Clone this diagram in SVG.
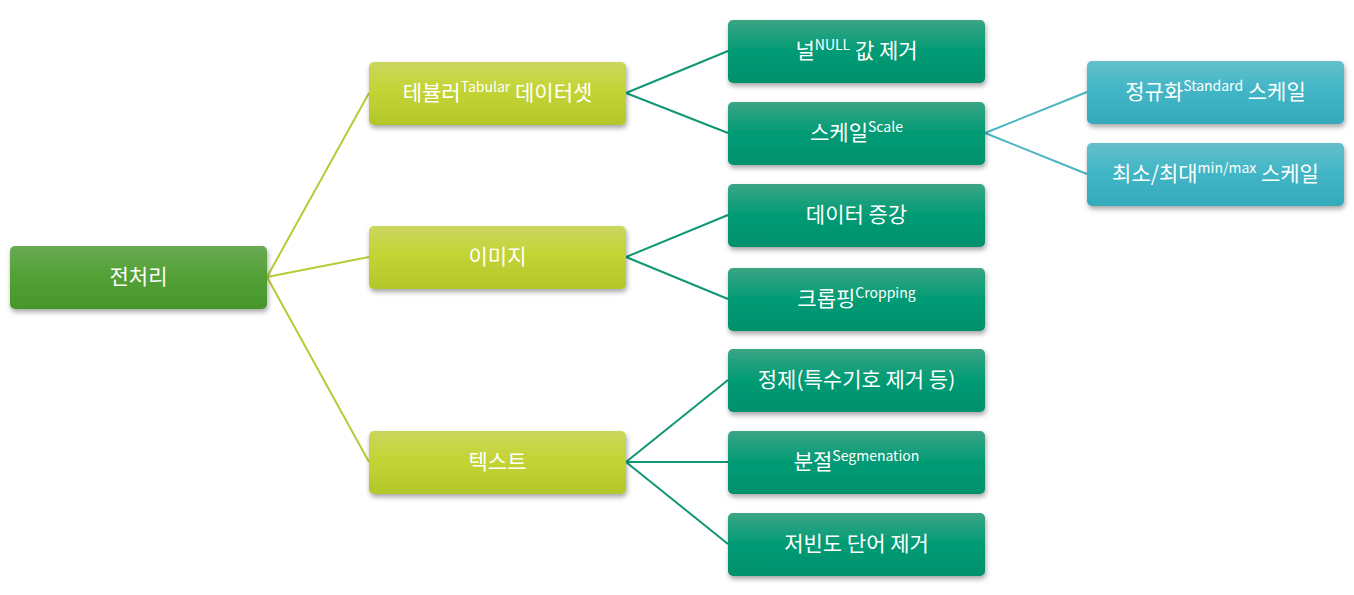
<svg xmlns="http://www.w3.org/2000/svg" width="1354" height="595" viewBox="0 0 1354 595">
<defs>
<linearGradient id="gRoot" x1="0" y1="0" x2="0" y2="1"><stop offset="0" stop-color="#69ab55"/><stop offset="0.45" stop-color="#54a136"/><stop offset="1" stop-color="#46962a"/></linearGradient>
<linearGradient id="gL1" x1="0" y1="0" x2="0" y2="1"><stop offset="0" stop-color="#cbd65e"/><stop offset="0.45" stop-color="#c3d434"/><stop offset="1" stop-color="#b3c62a"/></linearGradient>
<linearGradient id="gL2" x1="0" y1="0" x2="0" y2="1"><stop offset="0" stop-color="#3ca585"/><stop offset="0.45" stop-color="#069c76"/><stop offset="1" stop-color="#00906c"/></linearGradient>
<linearGradient id="gL3" x1="0" y1="0" x2="0" y2="1"><stop offset="0" stop-color="#64bfcb"/><stop offset="0.45" stop-color="#42b6c6"/><stop offset="1" stop-color="#34aabb"/></linearGradient>
<filter id="sh" x="-10%" y="-20%" width="120%" height="150%"><feDropShadow dx="1" dy="3" stdDeviation="2.5" flood-color="#000" flood-opacity="0.35"/></filter>
</defs>
<style>
text{font-family:"Noto Sans CJK KR","Noto Sans",sans-serif;font-size:21px;fill:#fff;text-anchor:middle}
.sup{font-size:14px}
.c1{stroke:#b8cb36;stroke-width:2;fill:none}
.c2{stroke:#0f9776;stroke-width:2;fill:none}
.c3{stroke:#4ab4c4;stroke-width:2;fill:none}
rect{filter:url(#sh)}
</style>
<g id="connectors">
<line class="c1" x1="267" y1="277" x2="369" y2="93"/>
<line class="c1" x1="267" y1="277" x2="369" y2="257"/>
<line class="c1" x1="267" y1="277" x2="369" y2="462"/>
<line class="c2" x1="626" y1="93" x2="728" y2="51"/>
<line class="c2" x1="626" y1="93" x2="728" y2="133"/>
<line class="c2" x1="626" y1="257" x2="728" y2="215"/>
<line class="c2" x1="626" y1="257" x2="728" y2="299"/>
<line class="c2" x1="626" y1="462" x2="728" y2="380"/>
<line class="c2" x1="626" y1="462" x2="728" y2="462"/>
<line class="c2" x1="626" y1="462" x2="728" y2="544"/>
<line class="c3" x1="985" y1="133" x2="1087" y2="92"/>
<line class="c3" x1="985" y1="133" x2="1087" y2="174"/>
</g>
<g id="root"><rect x="10" y="246" width="257" height="63" rx="5" fill="url(#gRoot)"/><text x="138.5" y="284">전처리</text></g>
<g id="tabular"><rect x="369" y="62" width="257" height="63" rx="5" fill="url(#gL1)"/><text x="497.5" y="100">테뷸러<tspan class="sup" dy="-8">Tabular</tspan><tspan dy="8"> 데이터셋</tspan></text></g>
<g id="image"><rect x="369" y="226" width="257" height="63" rx="5" fill="url(#gL1)"/><text x="497.5" y="264">이미지</text></g>
<g id="text"><rect x="369" y="431" width="257" height="63" rx="5" fill="url(#gL1)"/><text x="497.5" y="469">텍스트</text></g>
<g id="null"><rect x="728" y="20" width="257" height="63" rx="5" fill="url(#gL2)"/><text x="856.5" y="58">널<tspan class="sup" dy="-8">NULL</tspan><tspan dy="8"> 값 제거</tspan></text></g>
<g id="scale"><rect x="728" y="102" width="257" height="63" rx="5" fill="url(#gL2)"/><text x="856.5" y="140">스케일<tspan class="sup" dy="-8">Scale</tspan></text></g>
<g id="augment"><rect x="728" y="184" width="257" height="63" rx="5" fill="url(#gL2)"/><text x="856.5" y="222">데이터 증강</text></g>
<g id="crop"><rect x="728" y="268" width="257" height="63" rx="5" fill="url(#gL2)"/><text x="856.5" y="306">크롭핑<tspan class="sup" dy="-8">Cropping</tspan></text></g>
<g id="clean"><rect x="728" y="349" width="257" height="63" rx="5" fill="url(#gL2)"/><text x="856.5" y="387">정제(특수기호 제거 등)</text></g>
<g id="segment"><rect x="728" y="431" width="257" height="63" rx="5" fill="url(#gL2)"/><text x="856.5" y="469">분절<tspan class="sup" dy="-8">Segmenation</tspan></text></g>
<g id="lowfreq"><rect x="728" y="513" width="257" height="63" rx="5" fill="url(#gL2)"/><text x="856.5" y="551">저빈도 단어 제거</text></g>
<g id="standard"><rect x="1087" y="61" width="257" height="63" rx="5" fill="url(#gL3)"/><text x="1215.5" y="99">정규화<tspan class="sup" dy="-8">Standard</tspan><tspan dy="8"> 스케일</tspan></text></g>
<g id="minmax"><rect x="1087" y="143" width="257" height="63" rx="5" fill="url(#gL3)"/><text x="1215.5" y="181">최소/최대<tspan class="sup" dy="-8">min/max</tspan><tspan dy="8"> 스케일</tspan></text></g>
</svg>
